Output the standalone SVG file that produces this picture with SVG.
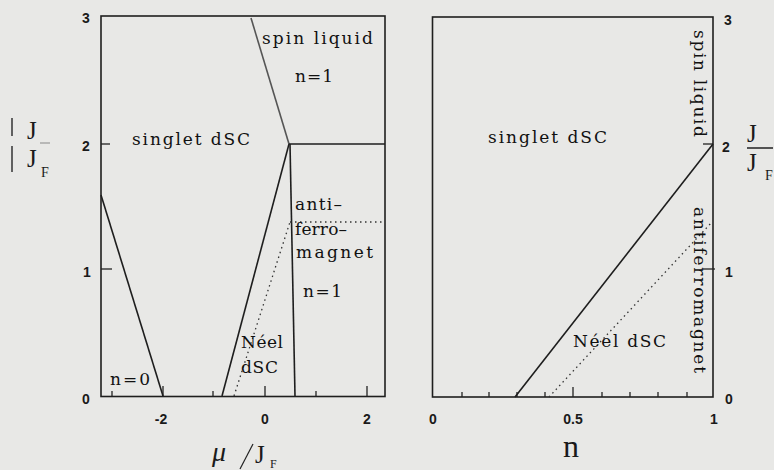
<svg xmlns="http://www.w3.org/2000/svg" width="774" height="470" viewBox="0 0 774 470">
<style>
.ln{stroke:#1e1e1e;stroke-width:1.6;fill:none}
.dt{stroke:#333;stroke-width:1.3;fill:none;stroke-dasharray:1.5 3.5}
.tk{stroke:#222;stroke-width:1.3}
.num{font-family:"Liberation Sans",Arial,sans-serif;font-size:14px;font-weight:bold;fill:#1a1a1a;text-anchor:middle}
.lab{font-family:"DejaVu Serif","Liberation Serif",serif;font-size:17px;fill:#111}
.ax{font-family:"Liberation Serif","DejaVu Serif",serif;fill:#1a1a1a}
</style>
<rect width="774" height="470" fill="#e8e8e6"/>

<g id="left-panel">
  <rect x="101" y="16" width="284" height="380.5" class="ln"/>
  <line x1="101" y1="144" x2="110" y2="144" class="tk"/>
  <line x1="101" y1="269" x2="112" y2="269" class="tk"/>
  <line x1="112" y1="396" x2="112" y2="391" class="tk"/>
  <line x1="163" y1="396" x2="163" y2="386" class="tk"/>
  <line x1="213" y1="396" x2="213" y2="391" class="tk"/>
  <line x1="265" y1="396" x2="265" y2="386" class="tk"/>
  <line x1="316" y1="396" x2="316" y2="391" class="tk"/>
  <line x1="367" y1="396" x2="367" y2="386" class="tk"/>
  <text class="num" x="86" y="23">3</text>
  <text class="num" x="86" y="151">2</text>
  <text class="num" x="87" y="277">1</text>
  <text class="num" x="86" y="404">0</text>
  <text class="num" x="161" y="424">-2</text>
  <text class="num" x="265" y="424">0</text>
  <text class="num" x="367" y="424">2</text>
</g>

<g id="left-lines">
  <line x1="101" y1="195" x2="163" y2="396" class="ln"/>
  <line x1="222" y1="396" x2="289" y2="144" class="ln"/>
  <line x1="251" y1="18" x2="289" y2="144" class="ln" style="stroke:#555"/>
  <line x1="289" y1="144" x2="385" y2="144" class="ln"/>
  <line x1="290" y1="144" x2="295" y2="396" class="ln"/>
  <line x1="234" y1="396" x2="290" y2="222" class="dt"/>
  <line x1="290" y1="222" x2="385" y2="222" class="dt"/>
</g>

<g id="left-labels">
  <text class="lab" x="262" y="44" textLength="111" lengthAdjust="spacing">spin liquid</text>
  <text class="lab" x="295" y="82" textLength="38" lengthAdjust="spacing">n=1</text>
  <text class="lab" x="132" y="145" textLength="118" lengthAdjust="spacing">singlet dSC</text>
  <text class="lab" x="295" y="210" textLength="47" lengthAdjust="spacing">anti–</text>
  <text class="lab" x="295" y="235" textLength="52" lengthAdjust="spacing">ferro–</text>
  <text class="lab" x="296" y="258" textLength="77" lengthAdjust="spacing">magnet</text>
  <text class="lab" x="303" y="297" textLength="39" lengthAdjust="spacing">n=1</text>
  <text class="lab" x="241" y="348" textLength="42" lengthAdjust="spacing">Néel</text>
  <text class="lab" x="241" y="373" textLength="37" lengthAdjust="spacing">dSC</text>
  <text class="lab" x="110" y="385" textLength="40" lengthAdjust="spacing">n=0</text>
</g>

<g id="left-axis-labels">
  <line x1="12" y1="118" x2="12" y2="136" stroke="#333" stroke-width="1.5"/>
  <line x1="12" y1="146" x2="12" y2="172" stroke="#333" stroke-width="1.5"/>
  <line x1="40" y1="143" x2="50" y2="143" stroke="#888" stroke-width="1"/>
  <text class="ax" x="27" y="139" font-size="25">J</text>
  <text class="ax" x="27" y="167" font-size="25">J</text>
  <text class="ax" x="41" y="177" font-size="14">F</text>
  <text class="ax" x="212" y="461" font-size="28" font-style="italic">μ</text>
  <line x1="240" y1="469" x2="253" y2="444" stroke="#222" stroke-width="1.2"/>
  <text class="ax" x="255" y="463" font-size="25">J</text>
  <text class="ax" x="270" y="468" font-size="12">F</text>
</g>

<g id="right-panel">
  <rect x="432.5" y="17" width="280.5" height="380" class="ln"/>
  <line x1="713" y1="144" x2="703" y2="144" class="tk"/>
  <line x1="715" y1="269" x2="703" y2="269" class="tk"/>
  <line x1="462" y1="397" x2="462" y2="392" class="tk"/>
  <line x1="489" y1="397" x2="489" y2="392" class="tk"/>
  <line x1="517" y1="397" x2="517" y2="392" class="tk"/>
  <line x1="545" y1="397" x2="545" y2="392" class="tk"/>
  <line x1="573" y1="397" x2="573" y2="387" class="tk"/>
  <line x1="602" y1="397" x2="602" y2="392" class="tk"/>
  <line x1="630" y1="397" x2="630" y2="392" class="tk"/>
  <line x1="658" y1="397" x2="658" y2="392" class="tk"/>
  <line x1="687" y1="397" x2="687" y2="392" class="tk"/>
  <text class="num" x="728" y="25">3</text>
  <text class="num" x="726" y="152">2</text>
  <text class="num" x="729" y="277">1</text>
  <text class="num" x="729" y="404">0</text>
  <text class="num" x="433" y="424">0</text>
  <text class="num" x="573" y="424">0.5</text>
  <text class="num" x="714" y="424">1</text>
</g>

<g id="right-lines">
  <line x1="515" y1="397" x2="713" y2="144" class="ln"/>
  <line x1="549" y1="397" x2="712" y2="222" class="dt"/>
</g>

<g id="right-labels">
  <text class="lab" x="488" y="143" textLength="119" lengthAdjust="spacing">singlet dSC</text>
  <text class="lab" x="573" y="347" textLength="93" lengthAdjust="spacing">Néel dSC</text>
  <text class="lab" transform="translate(694,30) rotate(90)" x="0" y="0" textLength="107" lengthAdjust="spacing">spin liquid</text>
  <text class="lab" transform="translate(694,207) rotate(90)" x="0" y="0" textLength="166" lengthAdjust="spacing">antiferromagnet</text>
</g>

<g id="right-axis-labels">
  <text class="ax" x="747" y="142" font-size="25">J</text>
  <line x1="747" y1="148" x2="773" y2="148" stroke="#222" stroke-width="1.5"/>
  <text class="ax" x="747" y="171" font-size="25">J</text>
  <text class="ax" x="765" y="180" font-size="14">F</text>
  <text class="ax" x="563" y="457" font-size="32">n</text>
</g>
</svg>
